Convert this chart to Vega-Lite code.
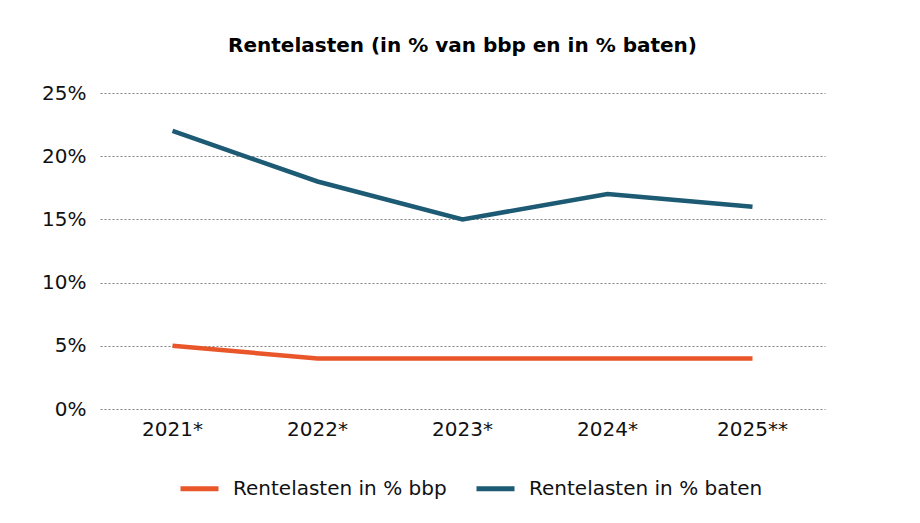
{
  "$schema": "https://vega.github.io/schema/vega-lite/v6.json",
  "width": 725,
  "height": 316,
  "autosize": {"type": "none"},
  "padding": {"left": 100, "top": 93, "right": 95, "bottom": 114},
  "background": "white",
  "title": {
    "text": "Rentelasten (in % van bbp en in % baten)",
    "font": "DejaVu Sans",
    "fontSize": 20,
    "fontWeight": "bold",
    "color": "#000000",
    "anchor": "middle",
    "offset": 27
  },
  "data": {
    "values": [
      {"jaar": "2021*", "reeks": "Rentelasten in % bbp", "waarde": 5},
      {"jaar": "2022*", "reeks": "Rentelasten in % bbp", "waarde": 4},
      {"jaar": "2023*", "reeks": "Rentelasten in % bbp", "waarde": 4},
      {"jaar": "2024*", "reeks": "Rentelasten in % bbp", "waarde": 4},
      {"jaar": "2025**", "reeks": "Rentelasten in % bbp", "waarde": 4},
      {"jaar": "2021*", "reeks": "Rentelasten in % baten", "waarde": 22},
      {"jaar": "2022*", "reeks": "Rentelasten in % baten", "waarde": 18},
      {"jaar": "2023*", "reeks": "Rentelasten in % baten", "waarde": 15},
      {"jaar": "2024*", "reeks": "Rentelasten in % baten", "waarde": 17},
      {"jaar": "2025**", "reeks": "Rentelasten in % baten", "waarde": 16}
    ]
  },
  "mark": {"type": "line", "strokeWidth": 4.5},
  "encoding": {
    "x": {
      "field": "jaar",
      "type": "nominal",
      "sort": null,
      "scale": {"type": "band", "paddingInner": 0, "paddingOuter": 0},
      "axis": {
        "title": null,
        "labelAngle": 0,
        "labelFont": "DejaVu Sans",
        "labelFontSize": 20,
        "labelColor": "#111111",
        "labelPadding": 10,
        "domain": false,
        "ticks": false,
        "grid": false
      }
    },
    "y": {
      "field": "waarde",
      "type": "quantitative",
      "scale": {"domain": [0, 25], "nice": false},
      "axis": {
        "title": null,
        "values": [0, 5, 10, 15, 20, 25],
        "labelExpr": "datum.value + '%'",
        "labelFont": "DejaVu Sans",
        "labelFontSize": 20,
        "labelColor": "#111111",
        "labelPadding": 14,
        "domain": false,
        "ticks": false,
        "grid": true,
        "gridColor": "#808080",
        "gridDash": [2, 2],
        "gridWidth": 1
      }
    },
    "color": {
      "field": "reeks",
      "type": "nominal",
      "sort": ["Rentelasten in % bbp", "Rentelasten in % baten"],
      "scale": {
        "domain": ["Rentelasten in % bbp", "Rentelasten in % baten"],
        "range": ["#E8562A", "#1D5A74"]
      },
      "legend": {
        "title": null,
        "orient": "none",
        "legendX": 78,
        "legendY": 374,
        "direction": "horizontal",
        "symbolType": "stroke",
        "symbolSize": 1444,
        "symbolStrokeWidth": 5,
        "labelFont": "DejaVu Sans",
        "labelFontSize": 20,
        "labelColor": "#111111",
        "labelLimit": 400,
        "columnPadding": 19,
        "labelOffset": 12
      }
    }
  },
  "config": {"view": {"stroke": null}}
}
